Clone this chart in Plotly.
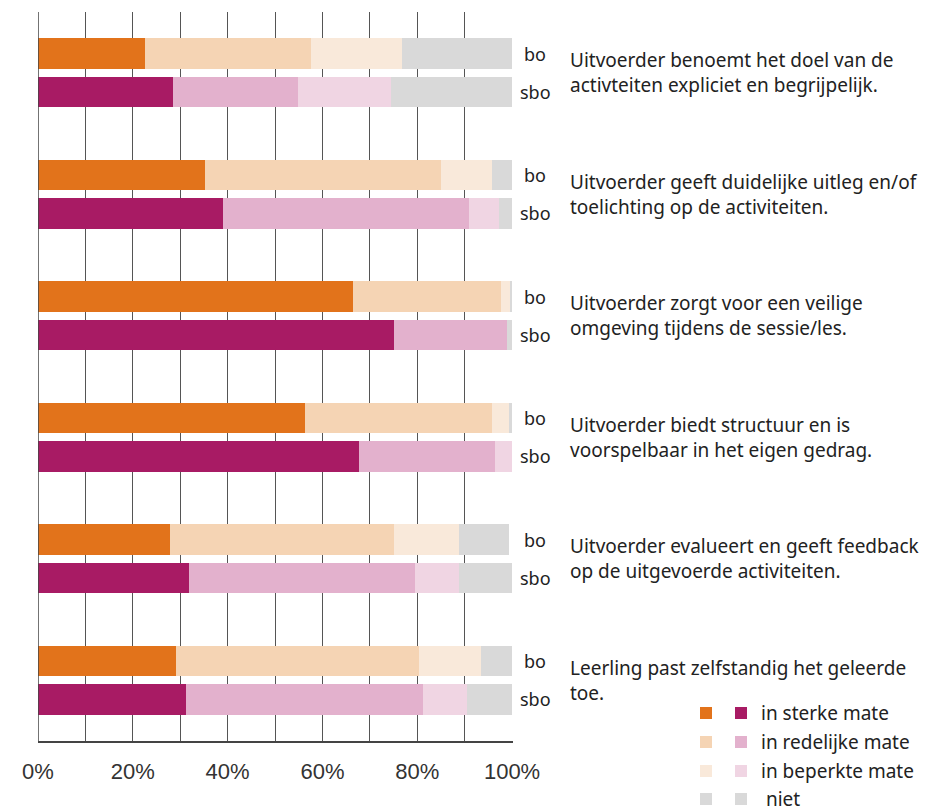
import plotly.graph_objects as go

statements = [
    "Uitvoerder benoemt het doel van de<br>activteiten expliciet en begrijpelijk.",
    "Uitvoerder geeft duidelijke uitleg en/of<br>toelichting op de activiteiten.",
    "Uitvoerder zorgt voor een veilige<br>omgeving tijdens de sessie/les.",
    "Uitvoerder biedt structuur en is<br>voorspelbaar in het eigen gedrag.",
    "Uitvoerder evalueert en geeft feedback<br>op de uitgevoerde activiteiten.",
    "Leerling past zelfstandig het geleerde<br>toe.",
]
levels = ["in sterke mate", "in redelijke mate", "in beperkte mate", "niet"]
groups = ["bo", "sbo"]

# percentages per statement (bo)
bo_sterk = [22.5, 35.3, 66.5, 56.4, 27.9, 29.2]
bo_redelijk = [35.1, 49.7, 31.1, 39.3, 47.2, 51.1]
bo_beperkt = [19.2, 10.7, 2.1, 3.6, 13.7, 13.1]
bo_niet = [23.2, 4.3, 0.3, 0.7, 10.5, 6.6]

# percentages per statement (sbo)
sbo_sterk = [28.4, 39.1, 75.1, 67.7, 31.9, 31.3]
sbo_redelijk = [26.5, 51.8, 23.8, 28.7, 47.6, 49.9]
sbo_beperkt = [19.6, 6.4, 0.0, 3.6, 9.3, 9.3]
sbo_niet = [25.5, 2.7, 1.1, 0.0, 11.2, 9.4]

bo_colors = ["#E2731B", "#F5D4B4", "#F9E9DA", "#D9D9D9"]
sbo_colors = ["#A81B64", "#E3B1CD", "#F0D5E3", "#D9D9D9"]

# page body has an 8px margin: figure is sized/positioned to compensate
W, H = 936, 803
OFF = 8

n = len(statements)
y_bo = [k - 0.157 for k in range(n)]
y_sbo = [k + 0.157 for k in range(n)]
bw = 0.25

fig = go.Figure()
bo_series = [bo_sterk, bo_redelijk, bo_beperkt, bo_niet]
sbo_series = [sbo_sterk, sbo_redelijk, sbo_beperkt, sbo_niet]
for i, lvl in enumerate(levels):
    fig.add_trace(go.Bar(x=bo_series[i], y=y_bo, orientation="h", width=bw,
                         marker=dict(color=bo_colors[i], line=dict(width=0)),
                         name="bo " + lvl, showlegend=False, hoverinfo="x+name"))
    fig.add_trace(go.Bar(x=sbo_series[i], y=y_sbo, orientation="h", width=bw,
                         marker=dict(color=sbo_colors[i], line=dict(width=0)),
                         name="sbo " + lvl, showlegend=False, hoverinfo="x+name"))

tickvals = list(range(0, 101, 10))
ticktext = [f"{v}%" if v % 20 == 0 else "" for v in tickvals]

font_txt = dict(family="Noto Sans", size=19, color="#222")
annotations = []
for k in range(n):
    annotations.append(dict(x=1, y=y_bo[k], xref="paper", yref="y", text=groups[0],
                            showarrow=False, xanchor="center", xshift=22,
                            font=dict(family="Noto Sans", size=18, color="#222")))
    annotations.append(dict(x=1, y=y_sbo[k], xref="paper", yref="y", text=groups[1],
                            showarrow=False, xanchor="center", xshift=22,
                            font=dict(family="Noto Sans", size=18, color="#222")))
    annotations.append(dict(x=0, y=k, xref="paper", yref="y", text=statements[k],
                            showarrow=False, xanchor="left", align="left", xshift=530,
                            font=font_txt))

shapes = []
leg_y = [713, 742, 771, 799]  # page pixel rows of the custom legend
for j, lvl in enumerate(levels):
    yp = (741 - leg_y[j]) / 729
    for xc, col in [(706, bo_colors[j]), (741, sbo_colors[j])]:
        shapes.append(dict(type="rect", xref="paper", yref="paper",
                           x0=(xc - 6 - 38) / 475, x1=(xc + 6 - 38) / 475,
                           y0=yp - 6 / 729, y1=yp + 6 / 729,
                           fillcolor=col, line=dict(width=0)))
    annotations.append(dict(x=(759 - 38) / 475, y=yp, xref="paper", yref="paper",
                            text=(" " + lvl) if lvl == "niet" else lvl, showarrow=False,
                            xanchor="left", yanchor="middle",
                            font=font_txt))

fig.update_layout(
    width=W, height=H,
    margin=dict(l=38 - OFF, r=W - (513 - OFF), t=12 - OFF, b=H - (741 - OFF)),
    barmode="stack",
    plot_bgcolor="white", paper_bgcolor="white",
    xaxis=dict(range=[0, 100.2], tickvals=tickvals, ticktext=ticktext,
               showgrid=True, gridcolor="#555", gridwidth=1,
               showline=True, linecolor="#444", linewidth=1.5,
               ticks="outside", ticklen=10, tickcolor="rgba(0,0,0,0)",
               tickfont=dict(family="Liberation Sans", size=22, color="#333"),
               zeroline=False, fixedrange=True),
    yaxis=dict(range=[n - 0.5, -0.5], showticklabels=False, showgrid=False,
               zeroline=False, showline=False, fixedrange=True),
    annotations=annotations, shapes=shapes,
    bargap=0,
)
fig.add_shape(type="line", xref="x", yref="paper", x0=0, x1=0, y0=0, y1=1,
              line=dict(color="#444", width=1.5))

fig.write_html("out.html")
